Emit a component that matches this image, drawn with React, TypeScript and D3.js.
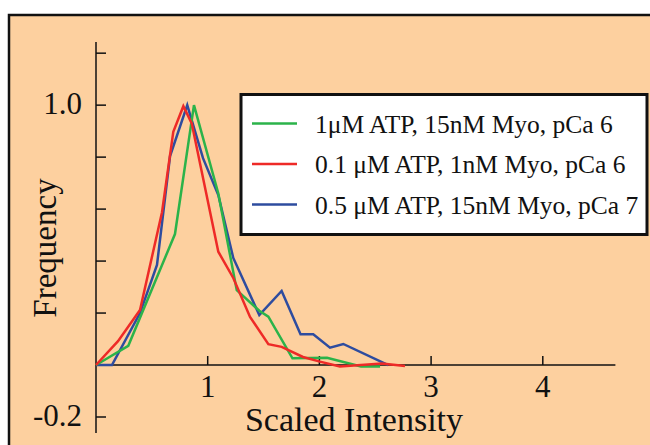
import React, { useRef, useEffect } from "react";
import * as d3 from "d3";

const width = 650;
const height = 445;

// x axis: 0 at px 96, 1 unit = 111.7px; y axis: 0 at 365, 1.0 at 105
const xDomain = [0, 4.65];
const yDomain = [-0.2, 1.243];
const yTicks = [-0.2, 0, 0.2, 0.4, 0.6, 0.8, 1.0, 1.2];
const yTickLabels = ["-0.2", "", "", "", "", "", "1.0", ""];
const xTicks = [1, 2, 3, 4];

const greenX = [0, 0.289, 0.707, 0.877, 1.095, 1.26, 1.462, 1.543, 1.759, 2.068, 2.372, 2.543];
const greenY = [0, 0.074, 0.504, 1.0, 0.66, 0.288, 0.209, 0.186, 0.026, 0.028, -0.006, -0.006];

const redX = [0, 0.197, 0.394, 0.591, 0.692, 0.782, 0.857, 1.095, 1.229, 1.379, 1.543, 1.662, 1.853, 2.005, 2.184, 2.56, 2.766];
const redY = [0, 0.092, 0.212, 0.588, 0.897, 0.996, 0.93, 0.436, 0.335, 0.185, 0.08, 0.07, 0.031, 0.013, -0.006, 0.006, -0.004];

const blueX = [0, 0.143, 0.394, 0.546, 0.663, 0.817, 0.958, 1.095, 1.229, 1.462, 1.662, 1.831, 1.945, 2.095, 2.214, 2.617];
const blueY = [0, 0, 0.2, 0.385, 0.804, 1.0, 0.796, 0.654, 0.412, 0.192, 0.285, 0.118, 0.118, 0.067, 0.081, 0];

const legendLabels = [
  "1\u03BCM ATP, 15nM Myo, pCa 6",
  "0.1 \u03BCM ATP, 1nM Myo, pCa 6",
  "0.5 \u03BCM ATP, 15nM Myo, pCa 7",
];
const colors = ["#2bb34a", "#ee2a27", "#2e4c9f"];

const font = "'Liberation Serif', 'Times New Roman', serif";

const App = () => {
  const ref = useRef<SVGSVGElement>(null);

  useEffect(() => {
    const svg = d3.select(ref.current);
    svg.selectAll("*").remove();

    // background + frame
    svg.append("rect").attr("width", width).attr("height", height).attr("fill", "#fff");
    svg.append("rect")
      .attr("x", 9).attr("y", 15)
      .attr("width", width + 20).attr("height", height + 20)
      .attr("fill", "#fdd09f")
      .attr("stroke", "#111").attr("stroke-width", 2.5);

    const x = d3.scaleLinear().domain(xDomain).range([96, 615.4]);
    const y = d3.scaleLinear().domain(yDomain).range([417, 42]);

    // y axis
    svg.append("line")
      .attr("x1", x(0)).attr("x2", x(0))
      .attr("y1", y(yDomain[1])).attr("y2", 433)
      .attr("stroke", "#111").attr("stroke-width", 1.5);
    svg.append("g")
      .selectAll("line")
      .data(yTicks)
      .join("line")
      .attr("x1", x(0)).attr("x2", x(0) + 10)
      .attr("y1", d => y(d)).attr("y2", d => y(d))
      .attr("stroke", "#111").attr("stroke-width", 1.5);
    svg.append("g")
      .selectAll("text")
      .data(yTicks)
      .join("text")
      .attr("x", 82)
      .attr("y", d => y(d) + 9)
      .attr("text-anchor", "end")
      .attr("font-family", font)
      .attr("font-size", 31)
      .attr("fill", "#111")
      .text((d, i) => yTickLabels[i]);

    // x axis
    svg.append("line")
      .attr("x1", x(0)).attr("x2", x(xDomain[1]))
      .attr("y1", y(0)).attr("y2", y(0))
      .attr("stroke", "#111").attr("stroke-width", 1.5);
    svg.append("g")
      .selectAll("line")
      .data(xTicks)
      .join("line")
      .attr("x1", d => x(d)).attr("x2", d => x(d))
      .attr("y1", y(0)).attr("y2", y(0) - 9)
      .attr("stroke", "#111").attr("stroke-width", 1.5);
    svg.append("g")
      .selectAll("text")
      .data(xTicks)
      .join("text")
      .attr("x", d => x(d))
      .attr("y", 397)
      .attr("text-anchor", "middle")
      .attr("font-family", font)
      .attr("font-size", 31)
      .attr("fill", "#111")
      .text(d => d);

    svg.append("text")
      .attr("x", 354).attr("y", 431)
      .attr("text-anchor", "middle")
      .attr("font-family", font)
      .attr("font-size", 34)
      .attr("fill", "#111")
      .text("Scaled Intensity");

    svg.append("text")
      .attr("transform", "translate(56,248) rotate(-90)")
      .attr("text-anchor", "middle")
      .attr("font-family", font)
      .attr("font-size", 33)
      .attr("fill", "#111")
      .text("Frequency");

    // curves
    const series = [
      { xs: blueX, ys: blueY, color: colors[2] },
      { xs: greenX, ys: greenY, color: colors[0] },
      { xs: redX, ys: redY, color: colors[1] },
    ];
    const line = d3.line<[number, number]>().x(d => x(d[0])).y(d => y(d[1]));
    svg.append("g")
      .selectAll("path")
      .data(series)
      .join("path")
      .attr("d", s => line(s.xs.map((v, i) => [v, s.ys[i]] as [number, number])))
      .attr("fill", "none")
      .attr("stroke", s => s.color)
      .attr("stroke-width", 2.5)
      .attr("stroke-linejoin", "miter");

    // legend
    const lg = svg.append("g");
    lg.append("rect")
      .attr("x", 241).attr("y", 94.5)
      .attr("width", 406).attr("height", 140)
      .attr("fill", "#fff")
      .attr("stroke", "#111").attr("stroke-width", 3);
    const rows = lg.selectAll("g")
      .data(legendLabels)
      .join("g")
      .attr("transform", (d, i) => `translate(0, ${123.5 + i * 40.5})`);
    rows.append("line")
      .attr("x1", 252).attr("x2", 297)
      .attr("stroke", (d, i) => colors[i])
      .attr("stroke-width", 2.5);
    rows.append("text")
      .attr("x", 315).attr("y", 9)
      .attr("font-family", font)
      .attr("font-size", 25.5)
      .attr("fill", "#111")
      .text(d => d);
  }, []);

  return (
    <div style={{ position: "fixed", left: 0, top: 0 }}>
      <svg ref={ref} width={width} height={height} style={{ display: "block" }} />
    </div>
  );
};

export default App;
